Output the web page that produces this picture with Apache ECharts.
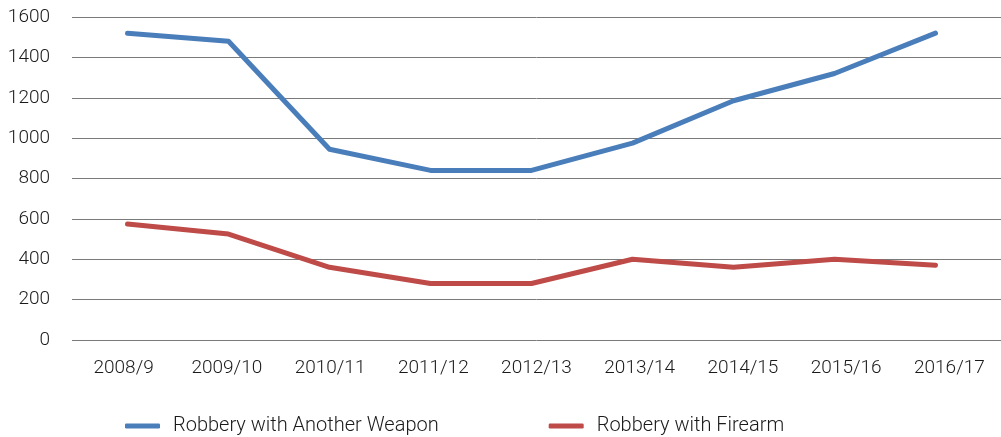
<!DOCTYPE html>
<html>
<head>
<meta charset="utf-8">
<script src="https://cdn.jsdelivr.net/npm/echarts@6/dist/echarts.min.js"></script>
<style>
html,body{margin:0;padding:0;background:#fff;}
#chart{width:1001px;height:437px;}
</style>
</head>
<body>
<div id="chart"></div>
<script>
var categories = ['2008/9','2009/10','2010/11','2011/12','2012/13','2013/14','2014/15','2015/16','2016/17'];
var anotherWeapon = [1520,1480,945,840,840,975,1185,1320,1520];
var firearm = [575,525,360,280,280,400,360,400,370];
var yTicks = {min:0, max:1600, interval:200};

var font = 'Roboto';
var textCol = '#1a1a1a';
var chart = echarts.init(document.getElementById('chart'));
chart.setOption({
  animation:false,
  backgroundColor:'#fff',
  grid:[
    {left:77, right:15, top:17, bottom:97},
    {left:72, right:0, top:17, bottom:97}
  ],
  legend:{
    bottom:-4, left:120,
    itemWidth:35, itemHeight:5, itemGap:110,
    icon:'roundRect',
    textStyle:{fontFamily:font, fontWeight:300, fontSize:20, color:textCol, padding:[0,0,0,8]},
    data:['Robbery with Another Weapon','Robbery with Firearm']
  },
  xAxis:[
    {gridIndex:0, type:'category', data:categories, boundaryGap:true, show:false},
    {gridIndex:1, type:'category', data:categories, boundaryGap:true,
     axisLine:{show:false}, axisTick:{show:false},
     axisLabel:{fontFamily:font, fontWeight:300, fontSize:19, color:textCol, margin:19}}
  ],
  yAxis:[
    {gridIndex:0, type:'value', min:yTicks.min, max:yTicks.max, interval:yTicks.interval, show:false},
    {gridIndex:1, type:'value', min:yTicks.min, max:yTicks.max, interval:yTicks.interval,
     axisLine:{show:false}, axisTick:{show:false},
     axisLabel:{fontFamily:font, fontWeight:300, fontSize:19, color:textCol, margin:22,
       formatter:function(v){return String(v);}},
     splitLine:{lineStyle:{color:'#7a7a7a', width:1}}}
  ],
  series:[
    {name:'Robbery with Another Weapon', type:'line', xAxisIndex:0, yAxisIndex:0, data:anotherWeapon, symbol:'none',
     lineStyle:{width:5, color:'#4a7ebb', cap:'round', join:'round'}, itemStyle:{color:'#4a7ebb'}},
    {name:'Robbery with Firearm', type:'line', xAxisIndex:0, yAxisIndex:0, data:firearm, symbol:'none',
     lineStyle:{width:5, color:'#be4b48', cap:'round', join:'round'}, itemStyle:{color:'#be4b48'}}
  ]
});
</script>
</body>
</html>
